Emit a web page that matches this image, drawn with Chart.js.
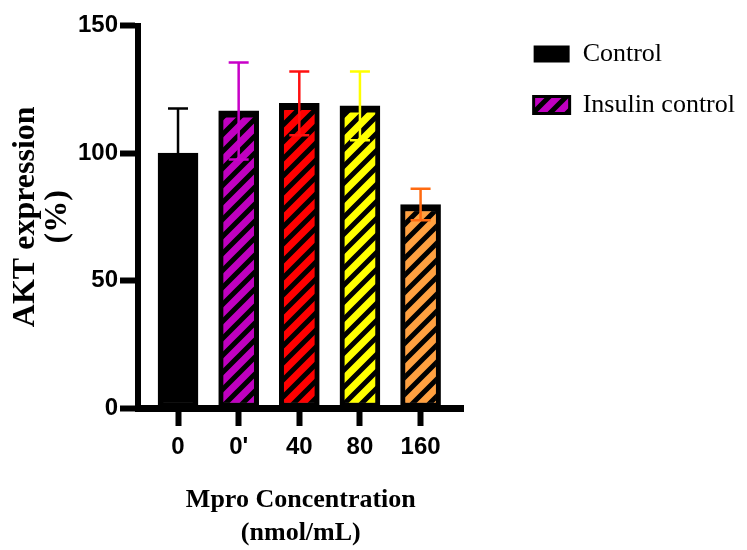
<!DOCTYPE html>
<html>
<head>
<meta charset="utf-8">
<script src="https://cdn.jsdelivr.net/npm/chart.js@4.4.1/dist/chart.umd.min.js"></script>
<style>
html,body{margin:0;padding:0;background:#ffffff;}
canvas{display:block;}
</style>
</head>
<body>
<canvas id="c" width="747" height="550"></canvas>
<script>
const categories = ['0', "0'", '40', '80', '160'];
const means = [100, 116.5, 119.5, 118.5, 79.8];
const sds = [17.5, 19, 12.5, 13.5, 6.2];
const fillColors = ['#000000', '#c000c0', '#ff0000', '#ffff00', '#ffa040'];
const striped = [false, true, true, true, true];
const errorColors = ['#000000', '#c800c8', '#ff1010', '#ffff00', '#ff6a10'];
const legendLabels = ['Control', 'Insulin control'];
const legendFill = ['#000000', '#c000c0'];
const legendStriped = [false, true];
const yTitle = ['AKT expression', '(%)'];
const xTitle = ['Mpro Concentration', '(nmol/mL)'];

function stripes(color) {
  const P = 17;
  const c = document.createElement('canvas');
  c.width = P; c.height = P;
  const g = c.getContext('2d');
  g.fillStyle = color;
  g.fillRect(0, 0, P, P);
  g.strokeStyle = '#000000';
  g.lineWidth = 5;
  g.beginPath();
  for (const k of [-1, 0, 1]) {
    g.moveTo(k * P - 3, P + 3);
    g.lineTo(k * P + P + 3, -3);
  }
  g.stroke();
  return g.createPattern(c, 'repeat');
}

const barFills = fillColors.map((c, i) => striped[i] ? stripes(c) : c);
const legendFills = legendFill.map((c, i) => legendStriped[i] ? stripes(c) : c);

const tickFont = {family: "'Liberation Sans Narrow', 'Arial Narrow', 'Liberation Sans', sans-serif", weight: 'bold', size: 24};

const errorBars = {
  id: 'errorBars',
  afterDatasetsDraw(chart) {
    const meta = chart.getDatasetMeta(0);
    const y = chart.scales.y;
    const ctx = chart.ctx;
    ctx.save();
    ctx.lineWidth = 2.5;
    meta.data.forEach((bar, i) => {
      const hi = y.getPixelForValue(means[i] + sds[i]);
      const lo = y.getPixelForValue(means[i] - sds[i]);
      ctx.strokeStyle = errorColors[i];
      ctx.beginPath();
      ctx.moveTo(bar.x, hi); ctx.lineTo(bar.x, lo);
      ctx.moveTo(bar.x - 10, hi); ctx.lineTo(bar.x + 10, hi);
      ctx.moveTo(bar.x - 10, lo); ctx.lineTo(bar.x + 10, lo);
      ctx.stroke();
    });
    ctx.restore();
  }
};

const legendPlace = {
  id: 'legendPlace',
  afterLayout(chart) {
    const lg = chart.legend;
    if (!lg) return;
    const w = lg.width, h = lg.height;
    lg.left = chart.chartArea.right + 45;
    lg.right = lg.left + w;
    lg.top = 16;
    lg.bottom = lg.top + h;
  }
};

new Chart(document.getElementById('c'), {
  type: 'bar',
  data: {
    datasets: [{
      data: means.map((v, i) => ({x: i, y: v})),
      backgroundColor: barFills,
      borderColor: '#000000',
      borderWidth: {top: 7, left: 5, right: 5, bottom: 5},
      borderSkipped: false,
      barThickness: 40
    }]
  },
  options: {
    responsive: false,
    animation: false,
    devicePixelRatio: 1,
    layout: {padding: {top: 25.5, right: 47, bottom: 0, left: 0}},
    plugins: {
      tooltip: {enabled: false},
      legend: {
        display: true,
        position: 'right',
        align: 'start',
        maxWidth: 400,
        onClick: null,
        labels: {
          boxWidth: 36,
          boxHeight: 17,
          padding: 25,
          color: '#000000',
          font: {family: "'Liberation Serif', 'Times New Roman', serif", size: 26},
          generateLabels: () => legendLabels.map((t, i) => ({
            text: t,
            fillStyle: legendFills[i],
            strokeStyle: '#000000',
            lineWidth: legendStriped[i] ? 3 : 0,
            fontColor: '#000000',
            hidden: false,
            index: i
          }))
        }
      }
    },
    scales: {
      x: {
        type: 'linear',
        min: -0.66,
        max: 4.71,
        offset: false,
        afterFit: (s) => { s.height = 142; },
        grid: {offset: false, drawOnChartArea: false, drawTicks: true, tickLength: 18, tickWidth: 6, tickColor: '#000000'},
        border: {display: true, width: 7, color: '#000000'},
        ticks: {
          stepSize: 1,
          includeBounds: false,
          autoSkip: false,
          maxRotation: 0,
          padding: 7,
          color: '#000000',
          font: tickFont,
          callback: (v) => categories[v] !== undefined ? categories[v] : ''
        },
        title: {
          display: true,
          text: xTitle,
          color: '#000000',
          font: {family: "'Liberation Serif', 'Times New Roman', serif", weight: 'bold', size: 26, lineHeight: '33px'},
          padding: {top: 0, bottom: 0}
        }
      },
      y: {
        min: 0,
        max: 150,
        afterFit: (s) => { s.width = 138; },
        grid: {drawOnChartArea: false, drawTicks: true, tickLength: 18, tickWidth: 6, tickColor: '#000000'},
        border: {display: true, width: 6, color: '#000000'},
        ticks: {
          stepSize: 50,
          padding: 2,
          color: '#000000',
          font: tickFont
        },
        title: {
          display: true,
          text: yTitle,
          color: '#000000',
          font: {family: "'Liberation Serif', 'Times New Roman', serif", weight: 'bold', size: 32, lineHeight: '32px'},
          padding: {top: 9.5, bottom: 0}
        }
      }
    }
  },
  plugins: [errorBars, legendPlace]
});
</script>
</body>
</html>
